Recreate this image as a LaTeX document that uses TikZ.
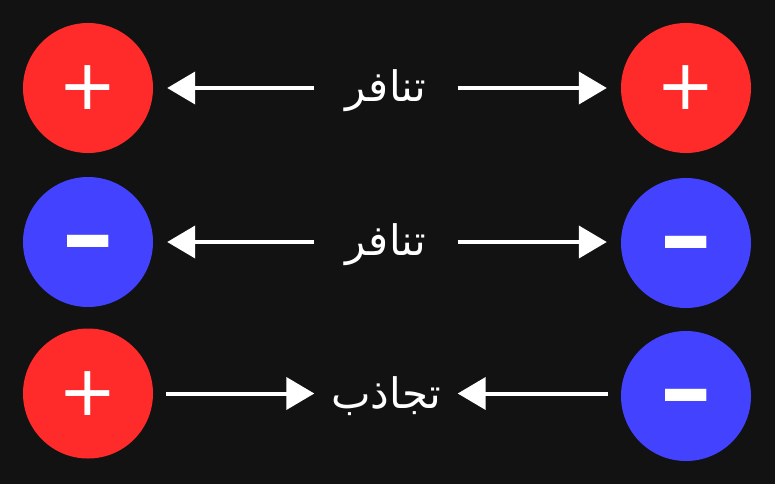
\documentclass[tikz,border=0pt]{standalone}
\usepackage{fontspec}
\setmainfont{DejaVu Sans}
\newfontfamily\arabicfont[Script=Arabic]{DejaVu Sans}
\newfontfamily\signfont{DejaVu Sans}
\newfontfamily\signfontbold{DejaVu Sans Bold}
\TeXXeTstate=1
\usetikzlibrary{arrows.meta}
\definecolor{bg}{HTML}{121212}
\definecolor{posred}{HTML}{FF2B2B}
\definecolor{negblue}{HTML}{4242FF}
\newsavebox\mysignbox
\newcommand\minussign{%
  \sbox\mysignbox{\signfontbold\fontsize{66}{66}\selectfont −}%
  \raisebox{-\dimexpr 1.6\ht\mysignbox - 6.5pt\relax}[0pt][0pt]{\scalebox{1}[1.6]{\usebox\mysignbox}}}
\newcommand\plussign{%
  \sbox\mysignbox{\signfont\fontsize{70}{70}\selectfont +}%
  \raisebox{-\dimexpr \ht\mysignbox - 22pt\relax}[0pt][0pt]{\usebox\mysignbox}}
\newcommand\arword[1]{\raisebox{-3pt}[\height][\depth]{\beginR #1\endR}}
\begin{document}
\begin{tikzpicture}[x=1pt,y=-1pt,
  charge/.style={circle,minimum size=130pt,inner sep=0pt,text=white},
  poscharge/.style={charge,fill=posred},
  negcharge/.style={charge,fill=negblue},
  wordnode/.style={inner sep=0pt,minimum width=143pt,text=white,font=\arabicfont\fontsize{42}{48}\selectfont},
  force/.style={draw=white,line width=4pt,-{Triangle[length=28pt,width=32pt]}}
]
\fill[bg] (0,0) rectangle (775,484);
\useasboundingbox (0,0) rectangle (775,484);
% row 1
\node[poscharge] (L1) at (88,88) {\plussign};
\node[poscharge] (R1) at (686,88) {\plussign};
\node[wordnode] (T1) at (386,88) {\arword{تنافر}};
\draw[force,shorten >=14pt] (T1.west) -- (L1);
\draw[force,shorten >=14pt] (T1.east) -- (R1);
% row 2
\node[negcharge] (L2) at (88,242) {\minussign};
\node[negcharge] (R2) at (686,243) {\minussign};
\node[wordnode] (T2) at (386,242) {\arword{تنافر}};
\draw[force,shorten >=14pt] (T2.west) -- (L2.east);
\draw[force,shorten >=14pt] (T2.east) -- (R2.west |- T2.east);
% row 3
\node[poscharge] (L3) at (88,393.5) {\plussign};
\node[negcharge] (R3) at (686,396) {\minussign};
\node[wordnode] (T3) at (386,393.5) {\arword{تجاذب}};
\draw[force,shorten <=13pt] (L3) -- (T3.west);
\draw[force,shorten <=13pt] (R3.west |- T3.east) -- (T3.east);
\end{tikzpicture}
\end{document}
